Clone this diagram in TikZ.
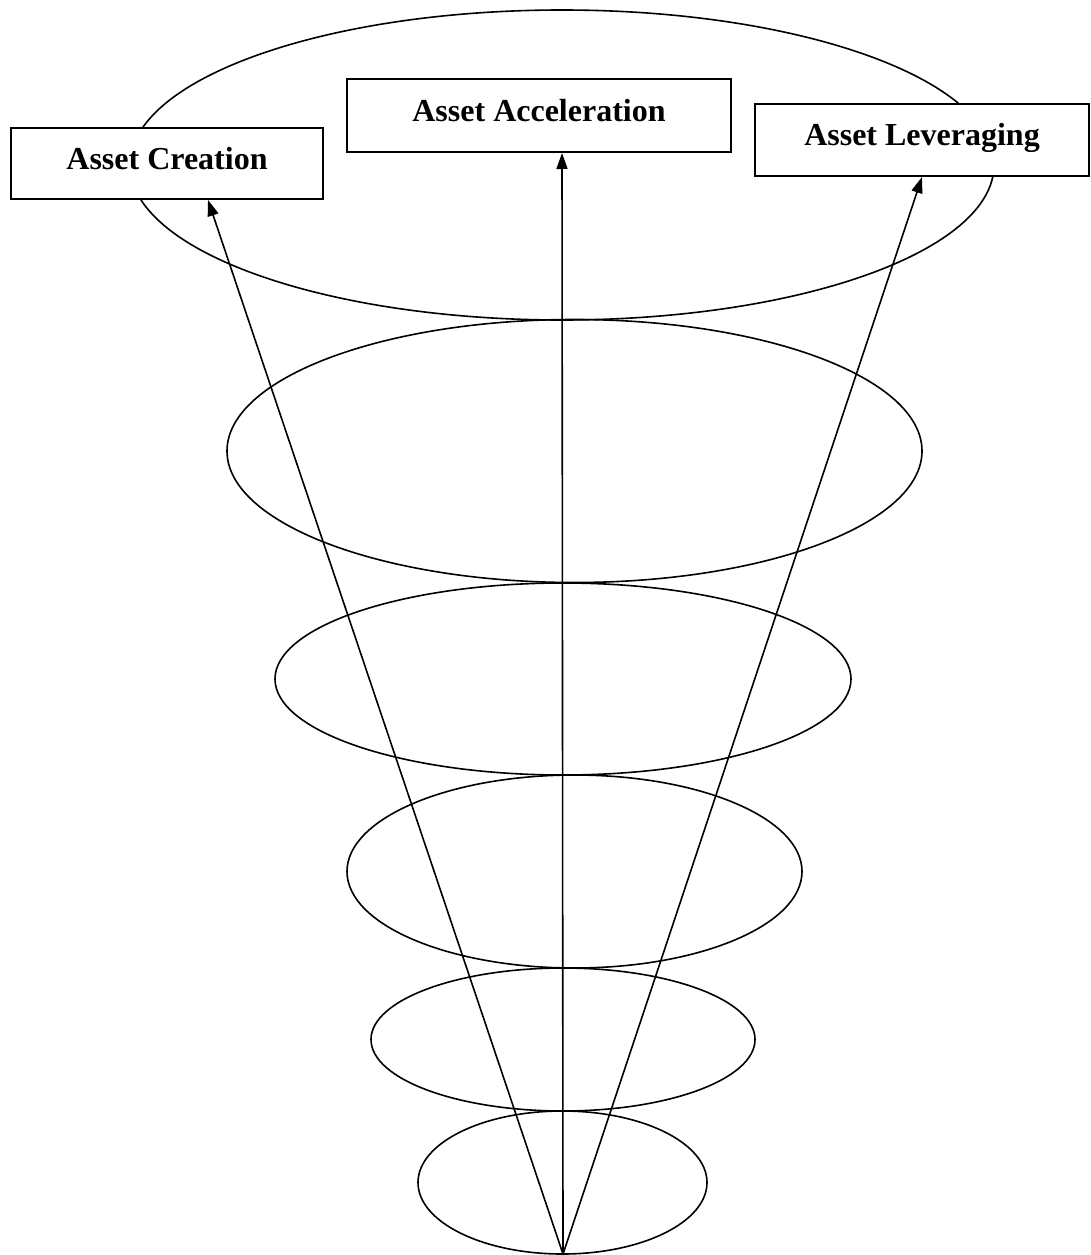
\documentclass[tikz,border=0pt]{standalone}
\usepackage{fontspec}
\setmainfont{Liberation Serif}
\usetikzlibrary{arrows.meta}
\tikzset{
  stage/.style={draw, fill=white, line width=2pt, minimum height=72pt,
    text height=21pt, text depth=10pt, inner sep=0pt,
    font=\bfseries\fontsize{32}{38}\selectfont},
}
\begin{document}
\begin{tikzpicture}[x=1pt, y=-1pt, line width=1.6pt, >={Triangle[length=16pt,width=11pt]}]
\useasboundingbox (0,0) rectangle (1091,1255);
% funnel


\draw (562,165) ellipse [x radius=432pt, y radius=155pt];
\draw (574.5,451) ellipse [x radius=347.5pt, y radius=131.5pt];
\draw (563,679) ellipse [x radius=288pt, y radius=96pt];
\draw (574.5,871.5) ellipse [x radius=227.5pt, y radius=96.5pt];
\draw (563,1039.5) ellipse [x radius=192pt, y radius=71.5pt];
\draw (562.5,1182.5) ellipse [x radius=144.5pt, y radius=71.5pt];
\coordinate (apex) at (563,1254);
\node[stage, minimum width=312pt, minimum height=71pt] (creation) at (167,163.5) {Asset Creation};
\node[stage, minimum width=384pt, minimum height=73pt] (acceleration) at (539,115.5) {Asset Acceleration};
\node[stage, minimum width=334pt] (leveraging) at (922,140) {Asset Leveraging};
\draw[->] (apex) -- ([xshift=41pt]creation.south);
\draw[->] (apex) -- ([xshift=23pt]acceleration.south);
\draw[->] (apex) -- (leveraging.south);
\end{tikzpicture}
\end{document}
